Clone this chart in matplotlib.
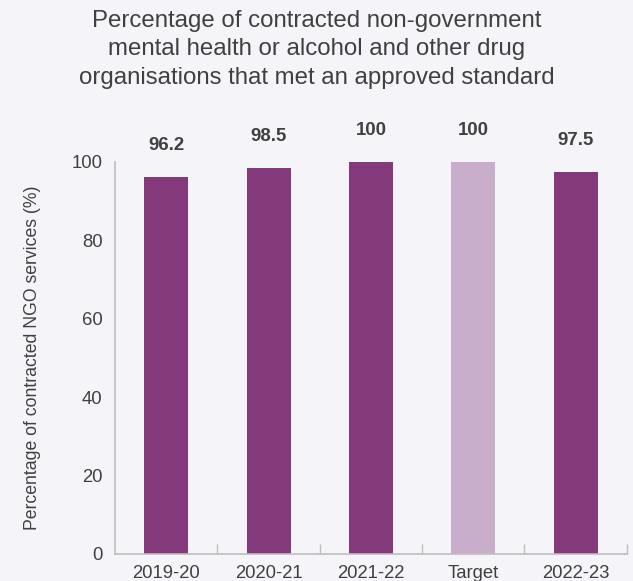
import matplotlib.pyplot as plt

plt.rcParams['font.family'] = ['Liberation Sans', 'DejaVu Sans']

categories = ["2019-20", "2020-21", "2021-22", "Target", "2022-23"]
values = [96.2, 98.5, 100, 100, 97.5]
labels = ["96.2", "98.5", "100", "100", "97.5"]

bg = "#f5f4f8"
dark = "#404040"
bar_main = "#843a7a"
bar_target = "#c9aecb"


def draw(out_file):
    fig = plt.figure(figsize=(6.33, 5.81), dpi=100, facecolor=bg)
    ax = fig.add_axes([0.182, 0.0465, 0.808, 0.675], facecolor=bg)

    colors = [bar_target if c == "Target" else bar_main for c in categories]
    x = list(range(len(categories)))
    ax.bar(x, values, width=0.43, color=colors, zorder=2)

    for xi, v, lab in zip(x, values, labels):
        ax.text(xi, v + 8, lab, ha="center", va="center", fontsize=13.4,
                fontweight="bold", color=dark)

    ax.set_xlim(-0.5, len(categories) - 0.5)
    ax.set_ylim(0, 100)
    ax.set_yticks([0, 20, 40, 60, 80, 100])
    ax.set_xticks(x)
    ax.set_xticklabels(categories)
    ax.set_xticks([i + 0.5 for i in x], minor=True)
    ax.tick_params(axis="x", which="major", length=0, labelsize=13.3,
                   labelcolor=dark, pad=8)
    ax.tick_params(axis="x", which="minor", direction="in", length=7,
                   color="#bdbdbd", width=1)
    ax.tick_params(axis="y", length=0, labelsize=13.3, labelcolor=dark, pad=9)

    for side in ["top", "right"]:
        ax.spines[side].set_visible(False)
    for side in ["left", "bottom"]:
        ax.spines[side].set_color("#bdbdbd")
        ax.spines[side].set_linewidth(1.2)

    ax.set_ylabel("Percentage of contracted NGO services (%)", fontsize=12.7,
                  color=dark, labelpad=22)

    fig.text(0.5, 0.983, "Percentage of contracted non-government\n"
             "mental health or alcohol and other drug\n"
             "organisations that met an approved standard",
             ha="center", va="top", fontsize=17.3, color=dark, linespacing=1.38)

    fig.savefig(out_file, dpi=100, facecolor=bg)


if __name__ == "__main__":
    draw("out.png")
